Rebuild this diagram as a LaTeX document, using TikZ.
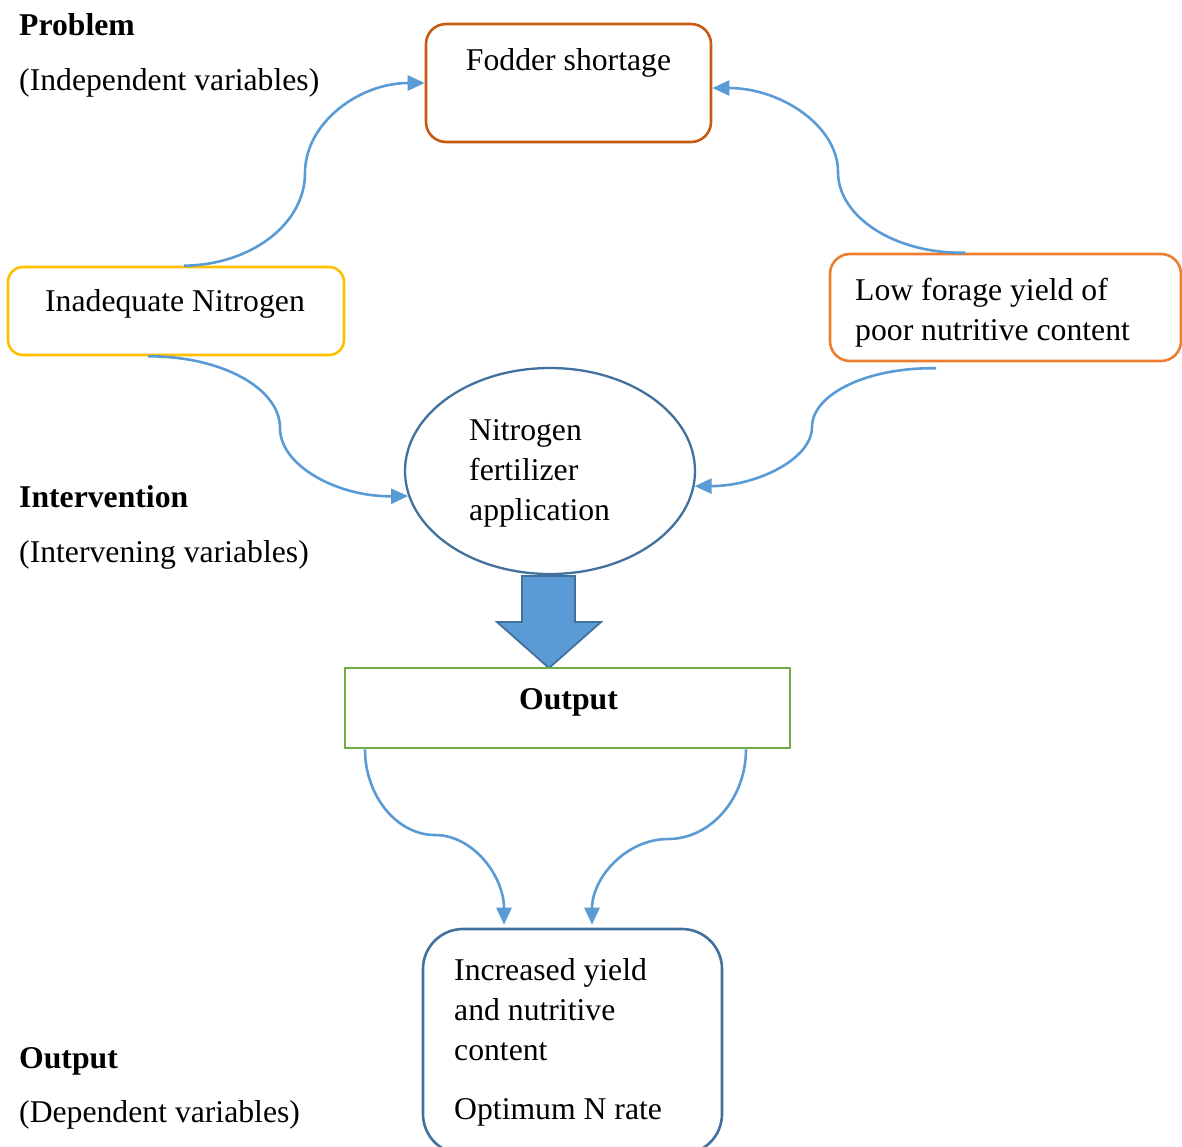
\documentclass[tikz,border=0pt]{standalone}
\usepackage{fontspec}
\setmainfont{Liberation Serif}
\usetikzlibrary{shapes.geometric,arrows.meta,calc}
\definecolor{brownc}{HTML}{C55A11}
\definecolor{goldc}{HTML}{FFC000}
\definecolor{orangec}{HTML}{ED7D31}
\definecolor{bluec}{HTML}{5B9BD5}
\definecolor{dblue}{HTML}{41719C}
\definecolor{greenc}{HTML}{70AD47}
\tikzset{
  rbox/.style={draw, line width=2.6pt, fill=white, inner sep=0pt},
  txt/.style={font=\fontsize{31.7}{40}\selectfont, inner sep=0pt, align=left},
  btxt/.style={font=\fontsize{31.7}{40}\selectfont\bfseries, inner sep=0pt},
  conn/.style={draw=bluec, line width=2.6pt, -{Triangle[length=17pt,width=15pt]}}
}
\begin{document}
\begin{tikzpicture}[x=1pt,y=-1pt]
\useasboundingbox (0,0) rectangle (1182,1146);
\clip (0,0) rectangle (1182,1146);

% side labels
\node[btxt, anchor=base west] (lprob) at (19,35) {Problem};
\node[txt, anchor=base west] (lind) at (19,90) {(Independent variables)};
\node[btxt, anchor=base west] (linter) at (19,507) {Intervention};
\node[txt, anchor=base west] (linterv) at (19,562) {(Intervening variables)};
\node[btxt, anchor=base west] (lout) at (19,1068) {Output};
\node[txt, anchor=base west] (ldep) at (19,1122) {(Dependent variables)};

% boxes
\node[rbox, draw=brownc, rounded corners=20pt, minimum width=285pt, minimum height=118pt] (fod) at (568.5,83) {};
\node[txt, anchor=base] (fodt) at (568.5,70) {Fodder shortage};

\node[rbox, draw=goldc, rounded corners=15pt, minimum width=336pt, minimum height=88pt] (inad) at (176,311) {};
\node[txt, anchor=base] (inadt) at (175,311.5) {Inadequate Nitrogen};

\node[rbox, draw=orangec, rounded corners=20pt, minimum width=351pt, minimum height=107pt] (low) at (1005.5,307.5) {};
\node[txt, anchor=base west] (lowt) at (855,340.5) {Low forage yield of\\poor nutritive content};

\node[ellipse, draw=dblue, line width=2.3pt, fill=white, minimum width=290pt, minimum height=206pt, inner sep=0pt] (ell) at (550,471) {};
\node[txt, anchor=base west] (ellt) at (469,520) {Nitrogen\\fertilizer\\application};

% block arrow
\draw[fill=bluec, draw=dblue, line width=1.8pt, line join=miter]
  (522,576) -- (575,576) -- (575,622) -- (601,622) -- (549,668) -- (497,622) -- (522,622) -- cycle;

\node[draw=greenc, line width=2.6pt, fill=white, minimum width=445pt, minimum height=80pt, inner sep=0pt] (out) at (567.5,708) {};
\node[btxt, anchor=base] (outt) at (568.5,709) {Output};

\node[rbox, draw=dblue, rounded corners=40pt, minimum width=299pt, minimum height=225pt] (res) at (572.5,1041.5) {};
\node[txt, anchor=base west] (rest) at (454,1119) {Increased yield\\and nutritive\\content\\[19pt]Optimum N rate};

% connectors
\draw[conn] ([xshift=8pt]inad.north) .. controls (251,265) and (305,224) .. (305,173)
  .. controls (305,123) and (359,83) .. (fod.west);
\draw[conn] ([xshift=-40.5pt]low.north) .. controls (895,254) and (838,217) .. (838,172)
  .. controls (838,126) and (781,88) .. ([yshift=-5pt]fod.east);
\draw[conn] ([xshift=-28pt]inad.south) .. controls (221,356) and (280,388) .. (280,428)
  .. controls (280,466) and (338,497) .. (ell.190);
\draw[conn] ([xshift=-69.5pt,yshift=-6pt]low.south) .. controls (868,367) and (812,394) .. (812,427)
  .. controls (812,459) and (757,486) .. (ell.354);
\draw[conn] ([xshift=-202.5pt]out.south) .. controls (365,796) and (397,835) .. (435,835)
  .. controls (473,835) and (504,876) .. ([xshift=-68.5pt,yshift=3pt]res.north);
\draw[conn] ([xshift=178.5pt]out.south) .. controls (746,798) and (711,839) .. (668,839)
  .. controls (626,839) and (592,878) .. ([xshift=19.5pt,yshift=3pt]res.north);
\end{tikzpicture}
\end{document}
